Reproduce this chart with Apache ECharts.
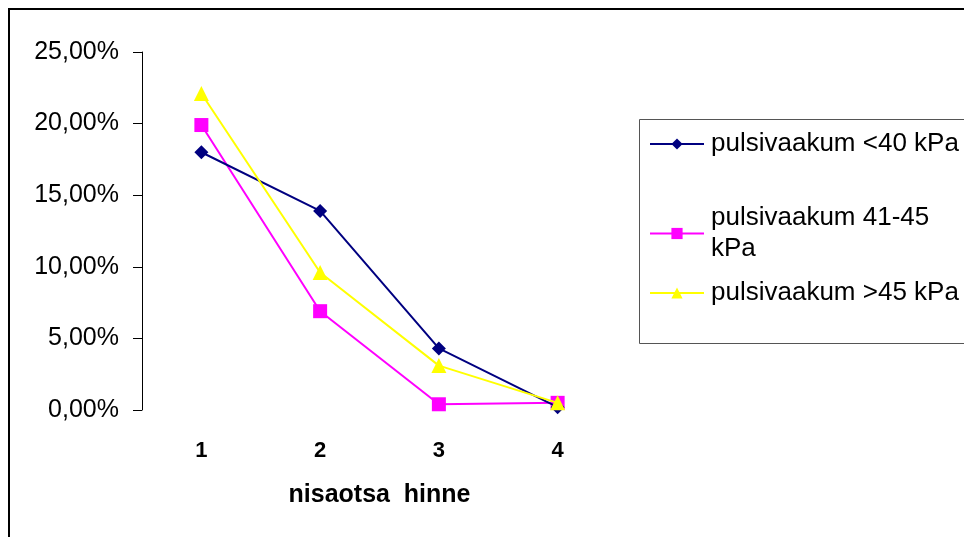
<!DOCTYPE html>
<html>
<head>
<meta charset="utf-8">
<script src="https://cdn.jsdelivr.net/npm/echarts@6/dist/echarts.min.js"></script>
<style>
html,body{margin:0;padding:0;background:#fff;}
#c{width:964px;height:537px;}
</style>
</head>
<body>
<div id="c"></div>
<script>
const categories = ['1', '2', '3', '4'];
const seriesNames = ['pulsivaakum <40 kPa', 'pulsivaakum 41-45 kPa', 'pulsivaakum >45 kPa'];
const lowVac = [0.180, 0.139, 0.043, 0.002];
const midVac = [0.199, 0.069, 0.004, 0.005];
const highVac = [0.221, 0.096, 0.031, 0.005];
const yTicks = [0, 0.05, 0.10, 0.15, 0.20, 0.25];
const xAxisTitle = 'nisaotsa  hinne';

const chart = echarts.init(document.getElementById('c'), null, {renderer: 'canvas'});
const font = 'Arial, "Liberation Sans", sans-serif';

function legendAt(name, top, extra) {
  return Object.assign({
    data: [name],
    orient: 'vertical',
    left: 649,
    top: top,
    padding: 0,
    itemWidth: 54,
    itemHeight: 14,
    itemGap: 0,
    selectedMode: false,
    textStyle: {fontFamily: font, fontSize: 26, color: '#000', padding: [0, 0, 0, 2]}
  }, extra || {});
}

chart.setOption({
  animation: false,
  backgroundColor: '#fff',
  grid: {left: 142, right: 347, top: 52, bottom: 127, containLabel: false},
  graphic: [
    {type: 'rect', shape: {x: 9, y: 9, width: 970, height: 540}, style: {fill: 'none', stroke: '#000', lineWidth: 2}, silent: true},
    {type: 'rect', shape: {x: 639.5, y: 119.5, width: 340, height: 224}, style: {fill: 'none', stroke: '#555', lineWidth: 1}, silent: true}
  ],
  legend: [
    legendAt(seriesNames[0], 131),
    legendAt(seriesNames[1], 187, {formatter: () => 'pulsivaakum 41-45\nkPa', textStyle: {fontFamily: font, fontSize: 26, color: '#000', lineHeight: 31, padding: [31, 0, 0, 2]}}),
    legendAt(seriesNames[2], 280)
  ],
  xAxis: {
    type: 'category',
    data: categories,
    boundaryGap: true,
    axisLine: {show: false},
    axisTick: {show: false},
    axisLabel: {margin: 30, fontFamily: font, fontSize: 22, fontWeight: 'bold', color: '#000'},
    name: xAxisTitle,
    nameLocation: 'middle',
    nameGap: 73,
    nameTextStyle: {fontFamily: font, fontSize: 25, fontWeight: 'bold', color: '#000'}
  },
  yAxis: {
    type: 'value',
    min: yTicks[0],
    max: yTicks[yTicks.length - 1],
    interval: yTicks[1] - yTicks[0],
    splitLine: {show: false},
    axisLine: {show: true, lineStyle: {color: '#000', width: 1}},
    axisTick: {show: true, inside: false, length: 9, lineStyle: {color: '#000'}},
    axisLabel: {
      margin: 23, fontFamily: font, fontSize: 25, color: '#000',
      formatter: v => (v * 100).toFixed(2).replace('.', ',') + '%'
    }
  },
  series: [
    {name: seriesNames[0], type: 'line', data: lowVac, symbol: 'diamond', symbolSize: 14,
     lineStyle: {color: '#000080', width: 2}, itemStyle: {color: '#000080'}, z: 3},
    {name: seriesNames[1], type: 'line', data: midVac, symbol: 'rect', symbolSize: 14,
     lineStyle: {color: '#FF00FF', width: 2}, itemStyle: {color: '#FF00FF'}, z: 2},
    {name: seriesNames[2], type: 'line', data: highVac, symbol: 'triangle', symbolSize: 15,
     lineStyle: {color: '#FFFF00', width: 2}, itemStyle: {color: '#FFFF00'}, z: 4}
  ]
});
</script>
</body>
</html>
